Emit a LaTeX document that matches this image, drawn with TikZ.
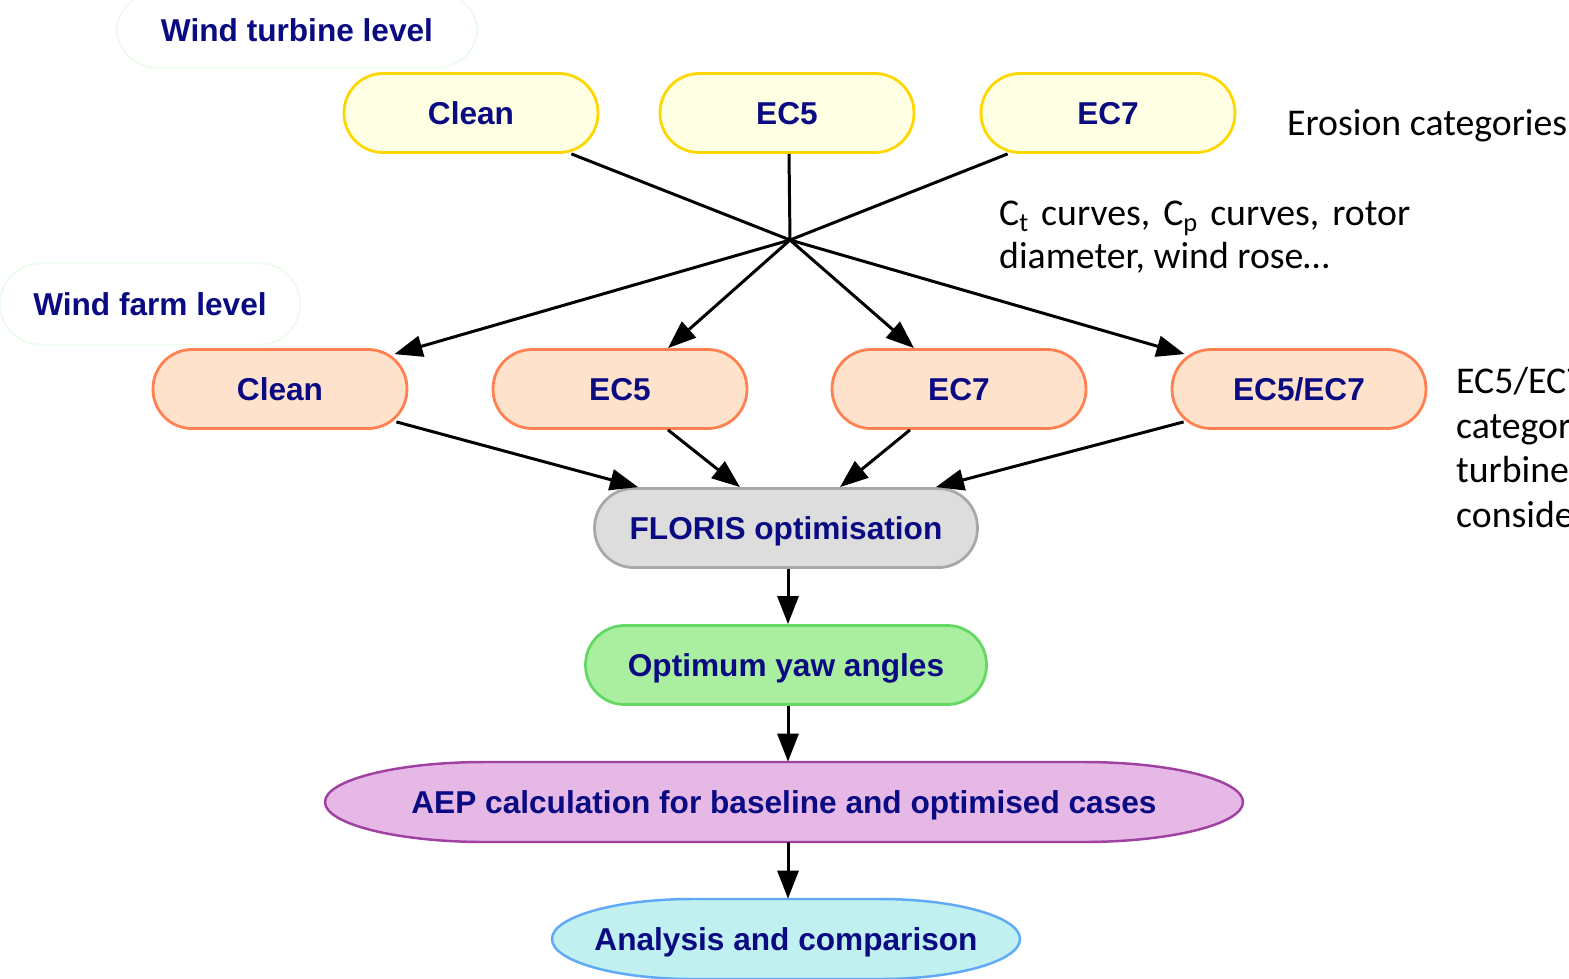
\documentclass[tikz,border=0pt]{standalone}
\usepackage{fontspec}
\setmainfont{Liberation Sans}
\newfontfamily\calib{Carlito}
\usetikzlibrary{arrows.meta,calc}
\definecolor{navy}{RGB}{10,10,130}
\definecolor{ylfill}{RGB}{255,255,228}
\definecolor{yldraw}{RGB}{255,215,0}
\definecolor{orfill}{RGB}{255,226,204}
\definecolor{ordraw}{RGB}{255,128,80}
\definecolor{gyfill}{RGB}{221,221,221}
\definecolor{gydraw}{RGB}{168,168,168}
\definecolor{grfill}{RGB}{170,238,160}
\definecolor{grdraw}{RGB}{100,216,100}
\definecolor{pufill}{RGB}{230,184,230}
\definecolor{pudraw}{RGB}{160,64,160}
\definecolor{cyfill}{RGB}{192,240,240}
\definecolor{cydraw}{RGB}{96,168,248}
\definecolor{faint}{RGB}{236,252,236}
\tikzset{
  lbl/.style={text=navy,font=\bfseries\fontsize{18}{21}\selectfont,align=center,text depth=0pt},
  stad/.style={lbl,rectangle,rounded corners=0.78cm,line width=1.6pt,minimum height=1.58cm},
  wtbox/.style={stad,fill=ylfill,draw=yldraw,minimum width=5.08cm},
  wfbox/.style={stad,fill=orfill,draw=ordraw,minimum width=5.08cm},
  level/.style={lbl,rectangle,draw=faint,line width=1pt,rounded corners=0.8cm},
  flat/.style={lbl,rectangle,minimum height=1.6cm},
  note/.style={font=\calib\fontsize{21.5}{24.6}\selectfont,align=left,text=black},
  conn/.style={line width=1.7pt,black},
  arr/.style={conn,-{Triangle[length=16pt,width=12pt]}}
}
\begin{document}
\begin{tikzpicture}[x=0.02cm,y=-0.02cm]
\useasboundingbox (0,0) rectangle (1569,978);
\clip (0,0) rectangle (1569,978);
% level labels
\node[level,minimum width=7.22cm,minimum height=1.5cm] (wtl) at (297,30) {Wind turbine level};
\node[level,minimum width=6.0cm,minimum height=1.62cm] (wfl) at (150,304) {Wind farm level};
% turbine level
\node[wtbox] (tc) at (471,113) {Clean};
\node[wtbox] (t5) at (787,113) {EC5};
\node[wtbox] (t7) at (1108,113) {EC7};
\coordinate (hub) at (790,240);
% farm level
\node[wfbox] (fc) at (280,389) {Clean};
\node[wfbox] (f5) at (620,389) {EC5};
\node[wfbox] (f7) at (959,389) {EC7};
\node[wfbox] (f57) at (1299,389) {EC5/EC7};
% chain
\node[stad,fill=gyfill,draw=gydraw,minimum width=7.66cm] (fl) at (786,528) {FLORIS optimisation};
\node[stad,fill=grfill,draw=grdraw,minimum width=8.02cm] (ya) at (786,665) {Optimum yaw angles};
% flattened-ellipse outlines
\draw[fill=pufill,draw=pudraw,line width=1.4pt]
  (485,762) -- (1083,762) .. controls (1171,762) and (1243,780) .. (1243,802)
  .. controls (1243,824) and (1171,842) .. (1083,842) -- (485,842)
  .. controls (397,842) and (325,824) .. (325,802)
  .. controls (325,780) and (397,762) .. (485,762) -- cycle;
\draw[fill=cyfill,draw=cydraw,line width=1.4pt]
  (692,899) -- (880,899) .. controls (957,899) and (1020,917) .. (1020,939)
  .. controls (1020,961) and (957,979) .. (880,979) -- (692,979)
  .. controls (615,979) and (552,961) .. (552,939)
  .. controls (552,917) and (615,899) .. (692,899) -- cycle;
\node[flat,minimum width=18.36cm] (aep) at (784,802) {AEP calculation for baseline and optimised cases};
\node[flat,minimum width=9.36cm] (an) at (786,939) {Analysis and comparison};
% notes
\node[note,anchor=west] (n1) at (1281,126) {Erosion categories};
\node[note,anchor=north west] (n2) at (993,195) {\makebox[8.22cm][s]{C\textsubscript{t} curves, C\textsubscript{p} curves, rotor}\\diameter, wind rose…};
\node[note,anchor=north west,font=\calib\fontsize{21.5}{25.4}\selectfont] (n3) at (1450,361) {EC5/EC7\\categories\\turbines\\considered};
% connectors top
\draw[conn] ($(tc.south east)+(-28,0)$) -- (hub);
\draw[conn] ($(t5.south)+(2,0)$) -- (hub);
\draw[conn] ($(t7.south west)+(28,0)$) -- (hub);
\draw[arr] (hub) -- ($(fc.north east)+(-14,6)$);
\draw[arr] (hub) -- ($(f5.north)+(48,0)$);
\draw[arr] (hub) -- ($(f7.north)+(-45,0)$);
\draw[arr] (hub) -- ($(f57.north west)+(14,6)$);
% connectors to FLORIS
\draw[arr] ($(fc.south east)+(-12,-8)$) -- ($(fl.north west)+(45,0)$);
\draw[arr] ($(f5.south)+(48,0)$) -- ($(fl.north)+(-46,0)$);
\draw[arr] ($(f7.south)+(-49,0)$) -- ($(fl.north)+(54,0)$);
\draw[arr] ($(f57.south west)+(13,-8)$) -- ($(fl.north east)+(-43,0)$);
% chain arrows
\draw[arr] ($(fl.south)+(2,0)$) -- ($(ya.north)+(2,0)$);
\draw[arr] ($(ya.south)+(2,0)$) -- ($(aep.north)+(4,0)$);
\draw[arr] ($(aep.south)+(4,0)$) -- ($(an.north)+(2,0)$);
\end{tikzpicture}
\end{document}
